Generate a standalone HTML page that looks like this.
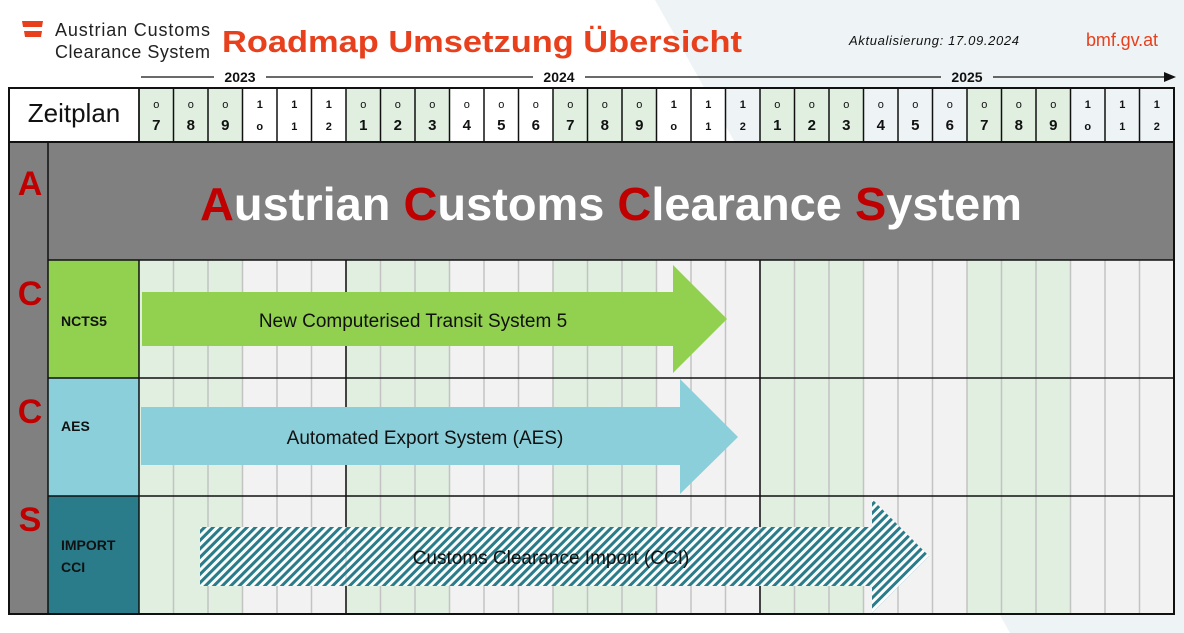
<!DOCTYPE html>
<html><head><meta charset="utf-8"><style>
html,body{margin:0;padding:0;background:#fff}
svg{display:block}
text{font-family:"Liberation Sans",sans-serif}
</style></head><body>
<svg width="1184" height="633" viewBox="0 0 1184 633" xmlns="http://www.w3.org/2000/svg">
<defs>
<pattern id="h" patternUnits="userSpaceOnUse" width="6" height="6" patternTransform="rotate(45)">
<rect width="6" height="6" fill="#fff" fill-opacity="0.85"/>
<rect width="3" height="6" fill="#2b7c8a"/>
</pattern>
</defs>
<rect width="1184" height="633" fill="#fff"/>
<polygon points="655,0 1184,0 1184,633 1010,633" fill="#eef3f6"/>
<!-- logo -->
<polygon points="22,21 43,21 42,27 23,27" fill="#e8401c"/>
<polygon points="24,31 42,31 41,37 25,37" fill="#e8401c"/>
<text x="55" y="36" font-size="18" fill="#222" textLength="155">Austrian Customs</text>
<text x="55" y="58" font-size="18" fill="#222" textLength="155">Clearance System</text>
<text x="222" y="52" font-size="31" font-weight="bold" fill="#e8401c" textLength="520" lengthAdjust="spacingAndGlyphs">Roadmap Umsetzung Übersicht</text>
<text x="849" y="45" font-size="13" font-style="italic" fill="#111" textLength="170">Aktualisierung: 17.09.2024</text>
<text x="1086" y="46" font-size="18" fill="#e8401c" textLength="72">bmf.gv.at</text>
<!-- year line -->
<line x1="141" y1="77" x2="1168" y2="77" stroke="#111" stroke-width="1.3"/>
<polygon points="1176,77 1164,72 1164,82" fill="#111"/>
<rect x="214" y="68" width="52" height="16" fill="#fff"/>
<rect x="533" y="68" width="52" height="16" fill="#fff"/>
<rect x="941" y="68" width="52" height="16" fill="#eef3f6"/>
<text x="240" y="82" font-size="14" font-weight="bold" text-anchor="middle" fill="#111">2023</text>
<text x="559" y="82" font-size="14" font-weight="bold" text-anchor="middle" fill="#111">2024</text>
<text x="967" y="82" font-size="14" font-weight="bold" text-anchor="middle" fill="#111">2025</text>
<!-- header row -->
<rect x="9" y="88" width="130" height="54" fill="#fff"/>
<text x="74" y="122" font-size="26" text-anchor="middle" fill="#111">Zeitplan</text>
<g id="cols"></g>
<!-- gray band -->
<rect x="9" y="142" width="1165" height="472" fill="#808080"/>
<text x="611" y="220" font-size="46" font-weight="bold" text-anchor="middle" fill="#fff" textLength="822" lengthAdjust="spacingAndGlyphs"><tspan fill="#c00000">A</tspan>ustrian <tspan fill="#c00000">C</tspan>ustoms <tspan fill="#c00000">C</tspan>learance <tspan fill="#c00000">S</tspan>ystem</text>
<g font-size="34" font-weight="bold" fill="#c00000" text-anchor="middle">
<text x="30" y="195">A</text><text x="30" y="305">C</text><text x="30" y="423">C</text><text x="30" y="531">S</text>
</g>
<!-- labels -->
<rect x="48" y="260" width="91" height="118" fill="#92d050"/>
<rect x="48" y="378" width="91" height="118" fill="#8bcfda"/>
<rect x="48" y="496" width="91" height="118" fill="#2b7c8a"/>
<g font-size="14" font-weight="bold" fill="#111">
<text x="61" y="326">NCTS5</text><text x="61" y="431">AES</text><text x="61" y="550">IMPORT</text><text x="61" y="572">CCI</text>
</g>
<g id="body"></g>
<g stroke="#111" fill="none">
<line x1="48" y1="260" x2="1174" y2="260" stroke-width="1.5"/>
<line x1="48" y1="378" x2="1174" y2="378" stroke-width="1.5"/>
<line x1="48" y1="496" x2="1174" y2="496" stroke-width="1.5"/>
<line x1="346" y1="260" x2="346" y2="614" stroke-width="1.5"/>
<line x1="760" y1="260" x2="760" y2="614" stroke-width="1.5"/>
</g>
<!-- arrows -->
<polygon points="142,292 673,292 673,265 727,319 673,373 673,346 142,346" fill="#92d050"/>
<text x="413" y="327" font-size="19" text-anchor="middle" fill="#111">New Computerised Transit System 5</text>
<polygon points="141,407 680,407 680,379 738,437 680,494 680,465 141,465" fill="#8bcfda"/>
<text x="425" y="444" font-size="19" text-anchor="middle" fill="#111">Automated Export System (AES)</text>
<polygon points="200,527 872,527 872,499 929,556 872,613 872,586 200,586" fill="url(#h)"/>
<text x="551" y="564" font-size="19" text-anchor="middle" fill="#111">Customs Clearance Import (CCI)</text>
<!-- outer grid lines -->
<g stroke="#111" fill="none">
<rect x="9" y="88" width="1165" height="526" stroke-width="2"/>
<line x1="9" y1="142" x2="1174" y2="142" stroke-width="2"/>
<line x1="48" y1="142" x2="48" y2="614" stroke-width="1.5"/>
<line x1="139" y1="88" x2="139" y2="142" stroke-width="1.5"/>
<line x1="139" y1="260" x2="139" y2="614" stroke-width="1.5"/>
</g>
</svg>
<script>
(function(){
var ns="http://www.w3.org/2000/svg";
var cols=document.getElementById("cols"),body=document.getElementById("body");
function el(p,t,a){var e=document.createElementNS(ns,t);for(var k in a)e.setAttribute(k,a[k]);p.appendChild(e);return e;}
var x0=139,w=34.5;
for(var i=0;i<30;i++){
 var m=((6+i)%12)+1,x=x0+i*w,g=(m<=3||(m>=7&&m<=9));
 if(g) el(cols,"rect",{x:x,y:88,width:w,height:54,fill:"#e0efe0"});
 else if(x<720) el(cols,"rect",{x:x,y:88,width:w,height:54,fill:"#fff"});
 el(cols,"line",{x1:x,y1:88,x2:x,y2:142,stroke:"#111","stroke-width":1.5});
 var s=(m<10?"0"+m:""+m);
 var t1=el(cols,"text",{x:x+w/2,y:108,"font-size":11,"font-weight":s[0]=="0"?"normal":"bold","text-anchor":"middle",fill:"#111"});t1.textContent=s[0]=="0"?"o":s[0];
 var t2=el(cols,"text",{x:x+w/2,y:130,"font-size":s[1]=="0"?11:(m>=10?11:15),"font-weight":"bold","text-anchor":"middle",fill:"#111"});t2.textContent=s[1]=="0"?"o":s[1];
 el(body,"rect",{x:x,y:260,width:w,height:354,fill:g?"#e0efe0":"#f2f2f2"});
 if(i>0) el(body,"line",{x1:x,y1:260,x2:x,y2:614,stroke:"#c3c3c3","stroke-width":1.5});
}
})();
</script>
</body></html>
